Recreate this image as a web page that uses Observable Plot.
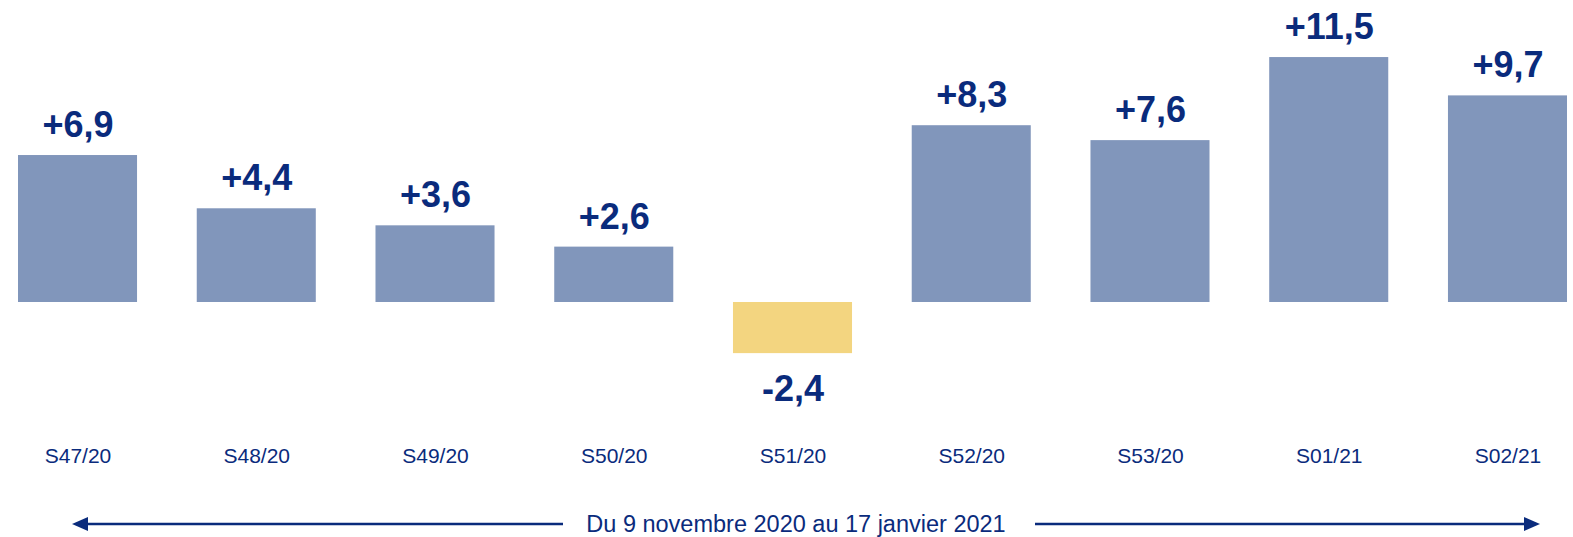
<!DOCTYPE html>
<html><head><meta charset="utf-8">
<script src="https://cdn.jsdelivr.net/npm/d3@7"></script>
<script src="https://cdn.jsdelivr.net/npm/@observablehq/plot@0.6"></script>
<style>
body{margin:0;background:#fff;font-family:"Liberation Sans",Arial,sans-serif;}
#foot{position:relative;height:47px;width:1573px;}
#foot svg{position:absolute;left:0;top:0;}
</style></head><body>
<div id="chart"></div>
<div id="foot"></div>
<script>
const weeks = ["S47/20","S48/20","S49/20","S50/20","S51/20","S52/20","S53/20","S01/21","S02/21"];
const values = [6.9, 4.4, 3.6, 2.6, -2.4, 8.3, 7.6, 11.5, 9.7];
const caption = "Du 9 novembre 2020 au 17 janvier 2021";

const navy = "#0a2b7c";
const data = weeks.map((w, i) => ({week: w, value: values[i]}));
const fmt = v => (v > 0 ? "+" : "") + v.toFixed(1).replace(".", ",");

const chart = Plot.plot({
  width: 1573,
  height: 490,
  marginLeft: 18,
  marginRight: 6,
  marginTop: 25.1,
  marginBottom: 102.8,
  style: {fontFamily: "Liberation Sans, Arial, sans-serif", background: "#fff"},
  x: {domain: weeks, paddingInner: 0.334, paddingOuter: 0, round: false, label: null},
  y: {domain: [-4, 13], axis: null},
  marks: [
    Plot.barY(data, {x: "week", y: "value", fill: d => d.value < 0 ? "#f3d580" : "#8196bb"}),
    Plot.text(data.filter(d => d.value >= 0), {x: "week", y: "value", text: d => fmt(d.value), dy: -30, fontSize: 36, fontWeight: "bold", fill: navy}),
    Plot.text(data.filter(d => d.value < 0), {x: "week", y: "value", text: d => fmt(d.value), dy: 36, fontSize: 36, fontWeight: "bold", fill: navy}),
    Plot.axisX({tickSize: 0, tickPadding: 60, fontSize: 21, color: navy, label: null})
  ]
});
document.getElementById("chart").appendChild(chart);

// footer arrow with caption
const foot = d3.select("#foot").append("svg").attr("width", 1573).attr("height", 47);
const yl = 34;
foot.append("line").attr("x1", 85).attr("x2", 563).attr("y1", yl).attr("y2", yl).attr("stroke", navy).attr("stroke-width", 2.5);
foot.append("path").attr("d", `M72,${yl} L88,${yl-7} L88,${yl+7} Z`).attr("fill", navy);
foot.append("line").attr("x1", 1035).attr("x2", 1526).attr("y1", yl).attr("y2", yl).attr("stroke", navy).attr("stroke-width", 2.5);
foot.append("path").attr("d", `M1540,${yl} L1524,${yl-7} L1524,${yl+7} Z`).attr("fill", navy);
foot.append("text").attr("x", 796).attr("y", yl).attr("dy", "0.35em").attr("text-anchor", "middle")
  .attr("font-size", 23.5).attr("fill", navy).attr("font-family", "Liberation Sans, Arial, sans-serif").text(caption);
</script>
</body></html>
